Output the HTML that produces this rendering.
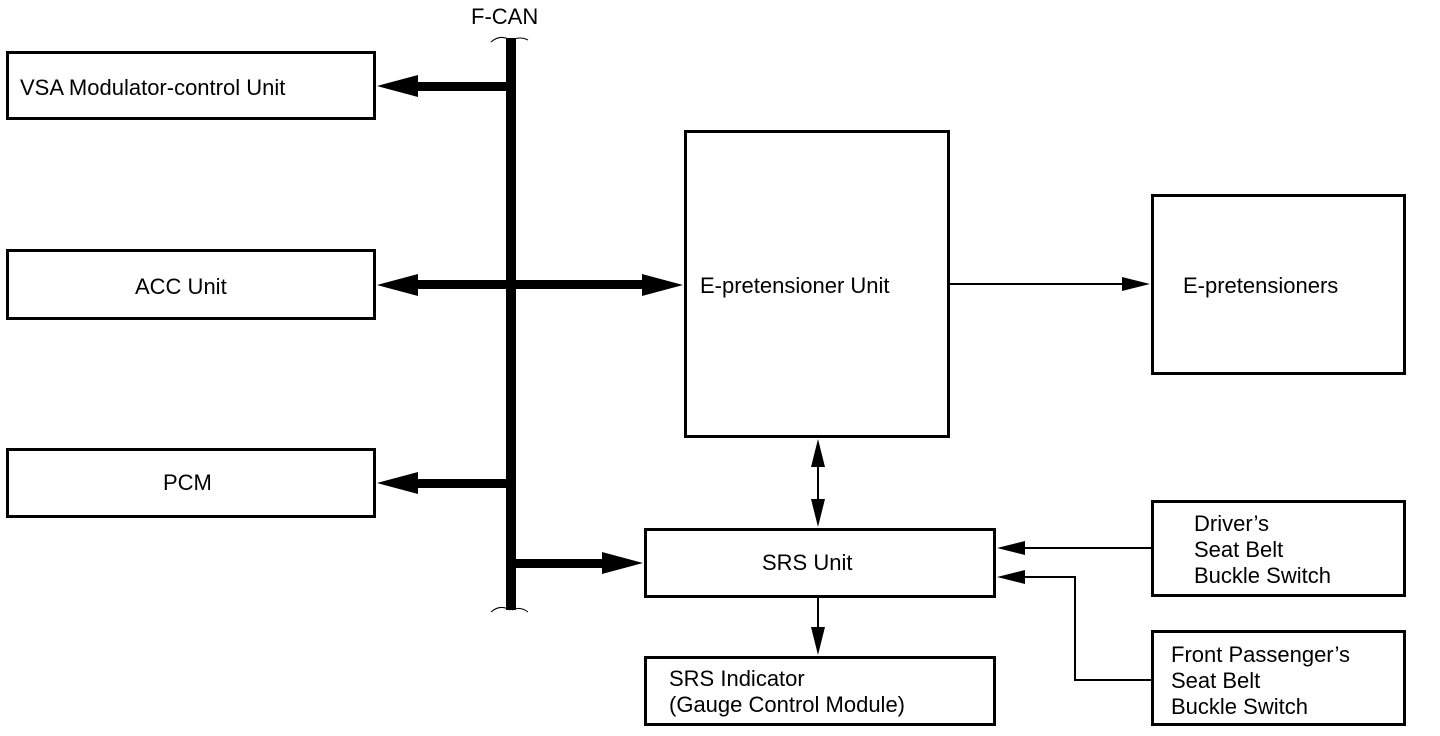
<!DOCTYPE html>
<html><head><style>
body{margin:0;background:#fff;}
svg{display:block;}
text{font-family:"Liberation Sans",sans-serif;font-size:22px;fill:#000;}
</style></head><body>
<svg width="1440" height="736" viewBox="0 0 1440 736" xmlns="http://www.w3.org/2000/svg">
<g fill="none" stroke="#000" stroke-width="3">
<rect x="7.5" y="52.5" width="367" height="66"/>
<rect x="7.5" y="250.5" width="367" height="68"/>
<rect x="7.5" y="449.5" width="367" height="67"/>
<rect x="685.5" y="131.5" width="263" height="305"/>
<rect x="1152.5" y="195.5" width="252" height="178"/>
<rect x="645.5" y="529.5" width="349" height="67"/>
<rect x="645.5" y="657.5" width="349" height="67"/>
<rect x="1152.5" y="501.5" width="252" height="94"/>
<rect x="1152.5" y="631.5" width="252" height="93"/>
</g>
<!-- bus -->
<rect x="506" y="38" width="10" height="572" fill="#000"/>
<path d="M491 42 Q500 34 510 40 M512 40 Q520 36 528 40 M491 612 Q500 604 510 610 M512 610 Q520 606 528 612" stroke="#000" stroke-width="1" fill="none"/>
<g fill="#000">
<rect x="415" y="82" width="95" height="9"/>
<polygon points="377,86 418,75 418,97"/>
<rect x="415" y="280" width="230" height="9"/>
<polygon points="377,285 418,274 418,296"/>
<polygon points="683,285 642,274 642,296"/>
<rect x="415" y="479" width="95" height="9"/>
<polygon points="377,483 418,472 418,494"/>
<rect x="510" y="559" width="95" height="9"/>
<polygon points="643,563 602,552 602,574"/>
<polygon points="1150,284 1122,277 1122,291"/>
<polygon points="818,439 811,467 825,467"/>
<polygon points="818,527 811,499 825,499"/>
<polygon points="818,655 811,627 825,627"/>
<polygon points="997,548 1025,541 1025,555"/>
<polygon points="997,577 1025,570 1025,584"/>
</g>
<g stroke="#000" stroke-width="2" fill="none">
<line x1="949" y1="284" x2="1124" y2="284"/>
<line x1="818" y1="465" x2="818" y2="501"/>
<line x1="818" y1="597" x2="818" y2="629"/>
<line x1="1023" y1="548" x2="1152" y2="548"/>
<polyline points="1023,577 1075,577 1075,680 1152,680"/>
</g>
<text x="471" y="24">F-CAN</text>
<text x="20" y="95">VSA Modulator-control Unit</text>
<text x="135" y="294">ACC Unit</text>
<text x="163" y="490">PCM</text>
<text x="700" y="293">E-pretensioner Unit</text>
<text x="1183" y="293">E-pretensioners</text>
<text x="762" y="570">SRS Unit</text>
<text x="669" y="686">SRS Indicator</text>
<text x="669" y="712">(Gauge Control Module)</text>
<text x="1194" y="531">Driver’s</text>
<text x="1194" y="557">Seat Belt</text>
<text x="1194" y="583">Buckle Switch</text>
<text x="1171" y="662">Front Passenger’s</text>
<text x="1171" y="688">Seat Belt</text>
<text x="1171" y="714">Buckle Switch</text>
</svg>
</body></html>
